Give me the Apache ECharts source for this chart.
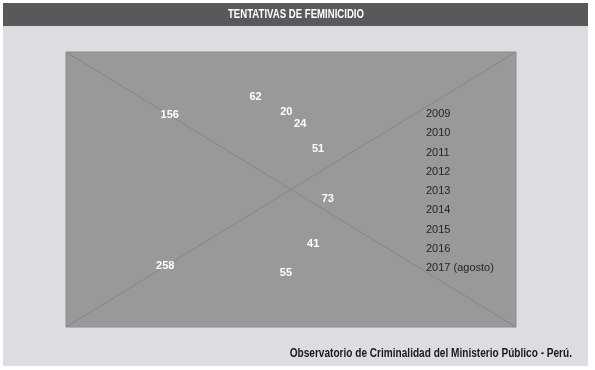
<!DOCTYPE html>
<html>
<head>
<meta charset="utf-8">
<script src="https://cdn.jsdelivr.net/npm/echarts@6/dist/echarts.min.js"></script>
<style>
html,body{margin:0;padding:0;background:#ffffff;}
#c{width:595px;height:370px;}
</style>
</head>
<body>
<div id="c"></div>
<script>
var years = ['2009','2010','2011','2012','2013','2014','2015','2016','2017 (agosto)'];
var values = [62, 20, 24, 51, 73, 41, 55, 258, 156];
var titleText = 'TENTATIVAS DE FEMINICIDIO';
var sourceText = 'Observatorio de Criminalidad del Ministerio Público - Perú.';

var FONT = '"Liberation Sans", Arial, sans-serif';
var chart = echarts.init(document.getElementById('c'), null, {renderer:'canvas'});

var data = years.map(function(y, i){ return {name: y, value: values[i]}; });

chart.setOption({
  animation: false,
  backgroundColor: '#ffffff',
  graphic: [
    {type:'rect', z:-10, shape:{x:3, y:3, width:585, height:363}, style:{fill:'#dcdde0'}},
    {type:'rect', z:-9, shape:{x:3, y:3, width:585, height:23}, style:{fill:'#58595b'}},
    {type:'text', z:-8, x:296, y:15, scaleX:0.8, style:{text:titleText, fill:'#ffffff', font:'bold 12px ' + FONT, align:'center', verticalAlign:'middle'}},
    {type:'rect', z:-7, shape:{x:66, y:52, width:450, height:275}, style:{fill:'#999999', stroke:'#8e8e8e', lineWidth:1}},
    {type:'line', z:-6, shape:{x1:66, y1:52, x2:516, y2:327}, style:{stroke:'#7f7f7f', lineWidth:0.8}},
    {type:'line', z:-6, shape:{x1:66, y1:327, x2:516, y2:52}, style:{stroke:'#7f7f7f', lineWidth:0.8}},
    {type:'text', z:-5, x:572, y:354, scaleX:0.84, style:{text:sourceText, fill:'#1a1a1a', font:'bold 12px ' + FONT, align:'right', verticalAlign:'middle'}}
  ],
  legend: {
    orient: 'vertical',
    left: 416,
    top: 102,
    icon: 'none',
    itemWidth: 0,
    itemHeight: 14,
    itemGap: 6.75,
    selectedMode: false,
    textStyle: {color:'#262626', fontSize:11, fontFamily: FONT},
    data: years
  },
  series: [{
    type: 'pie',
    center: [230, 192],
    radius: [0, 190],
    startAngle: 90,
    clockwise: true,
    silent: true,
    itemStyle: {color:'rgba(0,0,0,0)', borderWidth:0},
    label: {show:true, position:'inside', formatter:'{c}', color:'#ffffff', fontWeight:'bold', fontSize:11, fontFamily: FONT, textBorderWidth:0},
    labelLine: {show:false},
    labelLayout: {hideOverlap:false},
    emphasis: {disabled:true},
    data: data
  }]
});
</script>
</body>
</html>
